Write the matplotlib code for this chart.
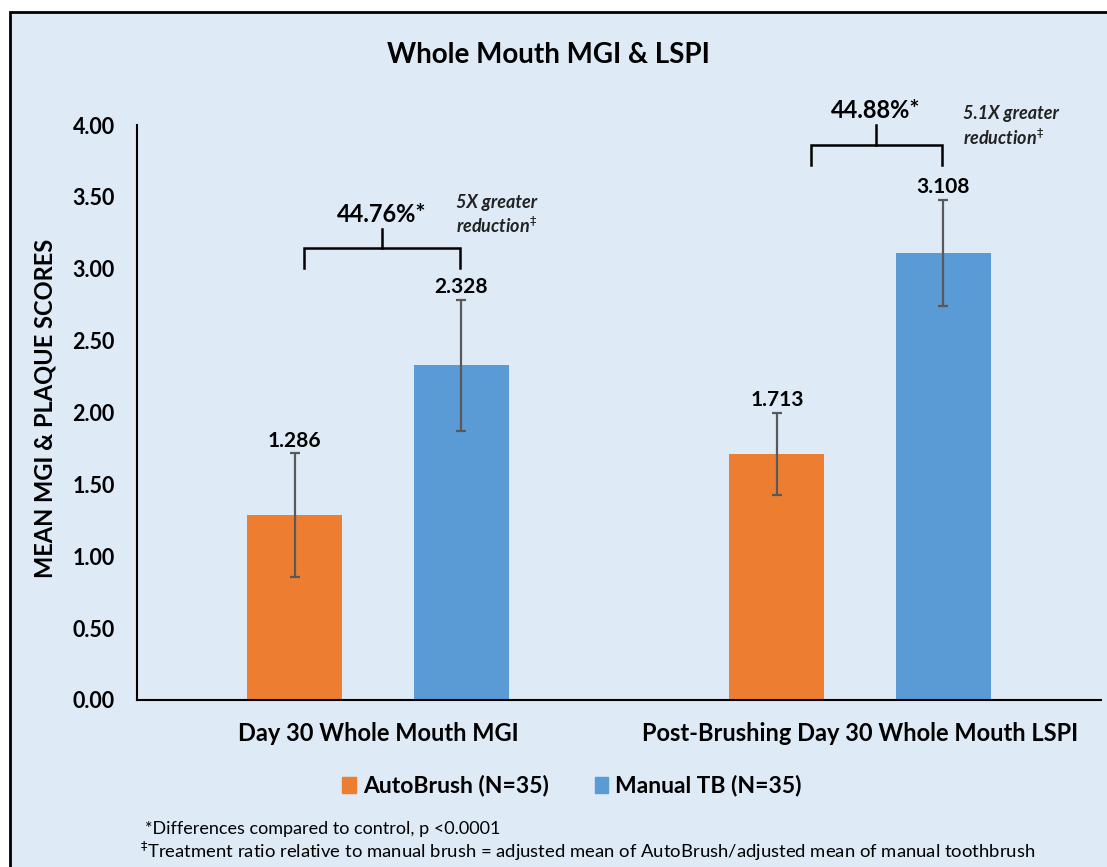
import matplotlib
matplotlib.use("Agg")
import matplotlib.pyplot as plt
from matplotlib.patches import Rectangle, Patch

plt.rcParams['font.family'] = ['Lato', 'DejaVu Sans']
plt.rcParams['mathtext.fontset'] = 'dejavusans'

# data
categories = ["Day 30 Whole Mouth MGI", "Post-Brushing Day 30 Whole Mouth LSPI"]
series = ["AutoBrush (N=35)", "Manual TB (N=35)"]
autobrush = [1.286, 1.713]
manual_tb = [2.328, 3.108]
autobrush_err = [0.43, 0.285]
manual_err = [0.455, 0.37]
pct_labels = ["44.76%*", "44.88%*"]
ratio_labels = ["5X greater\nreduction$^{\u2021}$", "5.1X greater\nreduction$^{\u2021}$"]
yticks = [0.0, 0.5, 1.0, 1.5, 2.0, 2.5, 3.0, 3.5, 4.0]

# bracket geometry (data units): left, right, stem x ; bar y, leg bottom y, stem top y
brackets = [(-0.154, 0.170, 0.008, 3.144, 3.005, 3.277),
            (-0.102, 0.170, 0.033, 3.861, 3.722, 4.00)]

bg = '#DEEAF6'
orange = '#ED7D31'
blue = '#5B9BD5'

fig = plt.figure(figsize=(11.07, 8.67), dpi=100)
fig.patch.set_facecolor('white')
fig.patches.append(Rectangle((10/1107, -0.02), 1.05, 1 - 12/867 + 0.02,
                             transform=fig.transFigure, facecolor=bg,
                             edgecolor='black', linewidth=2, zorder=-10))

ax = fig.add_axes([137/1107, 1 - 700/867, 964/1107, 575/867])
ax.set_facecolor('none')

x = [0, 1]
w = 0.197
off = 0.1725
ax.bar([i - off for i in x], autobrush, w, color=orange, zorder=2)
ax.bar([i + off for i in x], manual_tb, w, color=blue, zorder=2)
ax.errorbar([i - off for i in x], autobrush, yerr=autobrush_err, fmt='none',
            ecolor='#595959', elinewidth=1.6, capsize=3.5, capthick=1.6, zorder=3)
ax.errorbar([i + off for i in x], manual_tb, yerr=manual_err, fmt='none',
            ecolor='#595959', elinewidth=1.6, capsize=3.5, capthick=1.6, zorder=3)

for i in x:
    ax.annotate(f"{autobrush[i]:.3f}", (i - off, autobrush[i] + autobrush_err[i]),
                xytext=(0, 2), textcoords='offset points', ha='center', va='bottom',
                fontsize=15, fontweight='bold')
    ax.annotate(f"{manual_tb[i]:.3f}", (i + off, manual_tb[i] + manual_err[i]),
                xytext=(0, 2), textcoords='offset points', ha='center', va='bottom',
                fontsize=15, fontweight='bold')

for i, (l, r, s, yb, yl, ys) in enumerate(brackets):
    ax.plot([i + l, i + l, i + r, i + r], [yl, yb, yb, yl], color='black', lw=1.8,
            clip_on=False, solid_joinstyle='miter')
    ax.plot([i + s, i + s], [yb, ys], color='black', lw=1.8, clip_on=False)
    ax.annotate(pct_labels[i], (i + s, ys), xytext=(0, 2), textcoords='offset points',
                ha='center', va='bottom', fontsize=17, fontweight='bold',
                annotation_clip=False)
    ax.annotate(ratio_labels[i], (i + r, ys), xytext=(-3 + 18 * i, 10 if i == 0 else -1),
                textcoords='offset points', ha='left', va='center', fontsize=13,
                fontweight='bold', fontstyle='italic', color='#222222',
                linespacing=1.3, annotation_clip=False)

ax.set_xlim(-0.5, 1.5)
ax.set_ylim(0, 4)
ax.set_yticks(yticks)
ax.set_yticklabels([f"{v:.2f}" for v in yticks], fontsize=15.5, fontweight='bold')
ax.set_xticks(x)
ax.set_xticklabels(categories, fontsize=17, fontweight='bold')
ax.tick_params(axis='y', length=0, pad=16)
ax.tick_params(axis='x', length=0, pad=16)
for sp in ['top', 'right']:
    ax.spines[sp].set_visible(False)
for sp in ['left', 'bottom']:
    ax.spines[sp].set_linewidth(1.5)

fig.text(548/1107, 1 - 55/867, "Whole Mouth MGI & LSPI", ha='center', va='center',
         fontsize=20, fontweight='bold')
fig.text(45/1107, 1 - 408/867, "MEAN MGI & PLAQUE SCORES", ha='center', va='center',
         rotation=90, fontsize=17, fontweight='bold')

handles = [Patch(color=orange, label=series[0]), Patch(color=blue, label=series[1])]
fig.legend(handles=handles, loc='center', bbox_to_anchor=(572/1107, 1 - 786/867), ncol=2,
           frameon=False, handlelength=0.6, handleheight=0.7, handletextpad=0.3,
           columnspacing=2.0, prop={'size': 16.5, 'weight': 'bold'})

fig.text(145/1107, 1 - 829/867, "*Differences compared to control, p <0.0001",
         ha='left', va='center', fontsize=13)
fig.text(140/1107, 1 - 851/867,
         "$^{\u2021}$Treatment ratio relative to manual brush = adjusted mean of AutoBrush/adjusted mean of manual toothbrush",
         ha='left', va='center', fontsize=13.3)

fig.savefig("out.png", dpi=100)
